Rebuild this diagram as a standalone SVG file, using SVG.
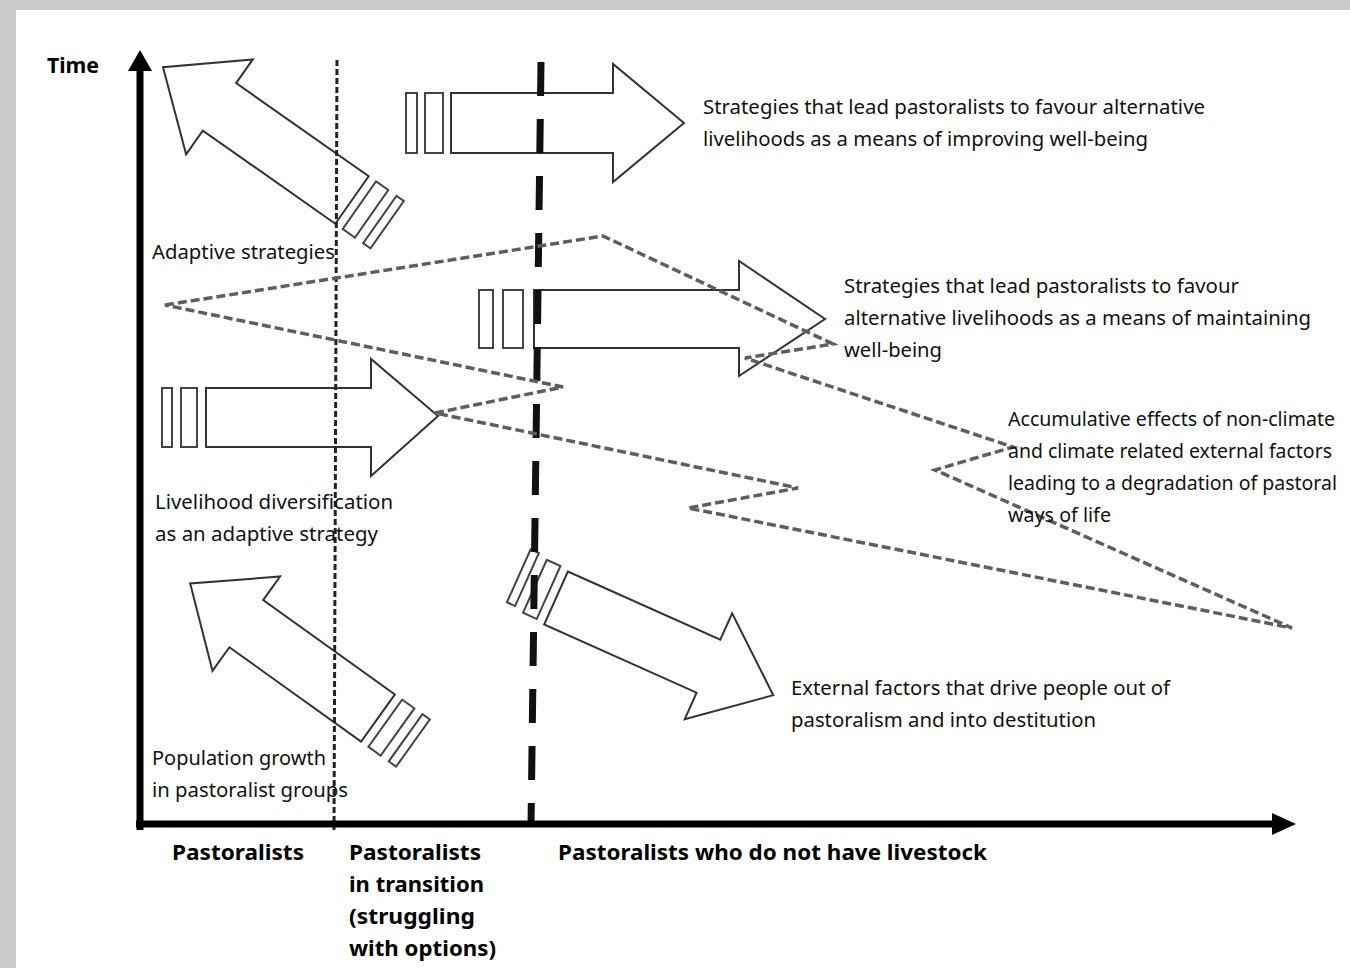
<svg xmlns="http://www.w3.org/2000/svg" width="1350" height="968" viewBox="0 0 1350 968">
<defs>
<style>
.t{font-family:"Noto Sans","Open Sans",sans-serif;font-size:20px;fill:#111}
.b{font-family:"Noto Sans","Open Sans",sans-serif;font-size:22px;font-weight:bold;fill:#000}
.ar{fill:#fff;stroke:#333;stroke-width:2;stroke-linejoin:miter}
.st{fill:#fff;stroke:#444;stroke-width:2}
.dash{fill:none;stroke:#5e5e5e;stroke-width:3.5;stroke-dasharray:9 4}
</style>
<g id="diagArrow">
<polygon class="ar" points="0,-29 162,-29 162,-58 231,0 162,58 162,29 0,29"/>
<rect class="st" x="-24" y="-29" width="15" height="58"/>
<rect class="st" x="-43" y="-29" width="9" height="58"/>
</g>
</defs>
<rect x="0" y="0" width="1350" height="968" fill="#cccccc"/>
<rect x="16" y="10" width="1334" height="958" fill="#ffffff"/>

<g id="arrow-adaptive">
<use href="#diagArrow" transform="translate(352,200) rotate(-144.9)"/>
</g>
<g id="arrow-population">
<use href="#diagArrow" transform="translate(378,718) rotate(-144.4)"/>
</g>
<g id="arrow-external">
<polygon class="ar" transform="translate(556,598) rotate(24.1)" points="0,-29 167,-29 167,-58 238,0 167,58 167,29 0,29"/>
<rect class="st" transform="translate(556,598) rotate(24.1)" x="-24" y="-31" width="15" height="58"/>
<rect class="st" transform="translate(556,598) rotate(24.1)" x="-43" y="-34" width="9" height="58"/>
</g>
<g id="arrow-improving">
<polygon class="ar" points="451,93 613,93 613,64 684,123 613,182 613,153 451,153"/>
<rect class="st" x="425" y="93" width="18" height="60"/>
<rect class="st" x="406" y="93" width="11" height="60"/>
</g>
<g id="arrow-maintaining">
<polygon class="ar" points="534,290 739,290 739,261 825,319 739,376 739,348 534,348"/>
<rect class="st" x="503" y="290" width="20" height="58"/>
<rect class="st" x="479" y="290" width="14" height="58"/>
</g>
<g id="arrow-livelihood">
<polygon class="ar" points="206,388 371,388 371,359 438,416 371,476 371,447 206,447"/>
<rect class="st" x="181" y="388" width="16" height="59"/>
<rect class="st" x="162" y="388" width="10" height="59"/>
</g>

<g id="connectors">
<line x1="337" y1="60" x2="334" y2="830" stroke="#222" stroke-width="3" stroke-dasharray="6 3"/>
<line x1="541" y1="62" x2="531" y2="826" stroke="#111" stroke-width="7" stroke-dasharray="34 23"/>
<polygon class="dash" points="165,305 603,236 833,344 745,358 1013,447 935,470 1292,628 688,508 798,488 435,413 563,387"/>
<line x1="140" y1="68" x2="140" y2="830" stroke="#000" stroke-width="7"/>
<polygon points="140,50 128,71 152,71" fill="#000"/>
<line x1="136" y1="824" x2="1274" y2="824" stroke="#000" stroke-width="7"/>
<polygon points="1296,824 1272,813 1272,835" fill="#000"/>
</g>

<g id="labels">
<text class="b" x="47" y="73" textLength="52" lengthAdjust="spacingAndGlyphs">Time</text>
<text class="t" x="152" y="259" textLength="183" lengthAdjust="spacingAndGlyphs">Adaptive strategies</text>
<text class="t" x="703" y="114" textLength="502" lengthAdjust="spacingAndGlyphs">Strategies that lead pastoralists to favour alternative</text>
<text class="t" x="703" y="146" textLength="445" lengthAdjust="spacingAndGlyphs">livelihoods as a means of improving well-being</text>
<text class="t" x="844" y="293" textLength="395" lengthAdjust="spacingAndGlyphs">Strategies that lead pastoralists to favour</text>
<text class="t" x="844" y="325" textLength="467" lengthAdjust="spacingAndGlyphs">alternative livelihoods as a means of maintaining</text>
<text class="t" x="844" y="357" textLength="98" lengthAdjust="spacingAndGlyphs">well-being</text>
<text class="t" x="1008" y="426" textLength="327" lengthAdjust="spacingAndGlyphs">Accumulative effects of non-climate</text>
<text class="t" x="1008" y="458" textLength="324" lengthAdjust="spacingAndGlyphs">and climate related external factors</text>
<text class="t" x="1008" y="490" textLength="329" lengthAdjust="spacingAndGlyphs">leading to a degradation of pastoral</text>
<text class="t" x="1008" y="522" textLength="103" lengthAdjust="spacingAndGlyphs">ways of life</text>
<text class="t" x="155" y="509" textLength="238" lengthAdjust="spacingAndGlyphs">Livelihood diversification</text>
<text class="t" x="155" y="541" textLength="223" lengthAdjust="spacingAndGlyphs">as an adaptive strategy</text>
<text class="t" x="791" y="695" textLength="379" lengthAdjust="spacingAndGlyphs">External factors that drive people out of</text>
<text class="t" x="791" y="727" textLength="305" lengthAdjust="spacingAndGlyphs">pastoralism and into destitution</text>
<text class="t" x="152" y="765" textLength="174" lengthAdjust="spacingAndGlyphs">Population growth</text>
<text class="t" x="152" y="797" textLength="196" lengthAdjust="spacingAndGlyphs">in pastoralist groups</text>
<text class="b" x="172" y="860" textLength="132" lengthAdjust="spacingAndGlyphs">Pastoralists</text>
<text class="b" x="349" y="860" textLength="132" lengthAdjust="spacingAndGlyphs">Pastoralists</text>
<text class="b" x="349" y="892" textLength="135" lengthAdjust="spacingAndGlyphs">in transition</text>
<text class="b" x="349" y="924" textLength="126" lengthAdjust="spacingAndGlyphs">(struggling</text>
<text class="b" x="349" y="956" textLength="147" lengthAdjust="spacingAndGlyphs">with options)</text>
<text class="b" x="558" y="860" textLength="429" lengthAdjust="spacingAndGlyphs">Pastoralists who do not have livestock</text>
</g>
</svg>
